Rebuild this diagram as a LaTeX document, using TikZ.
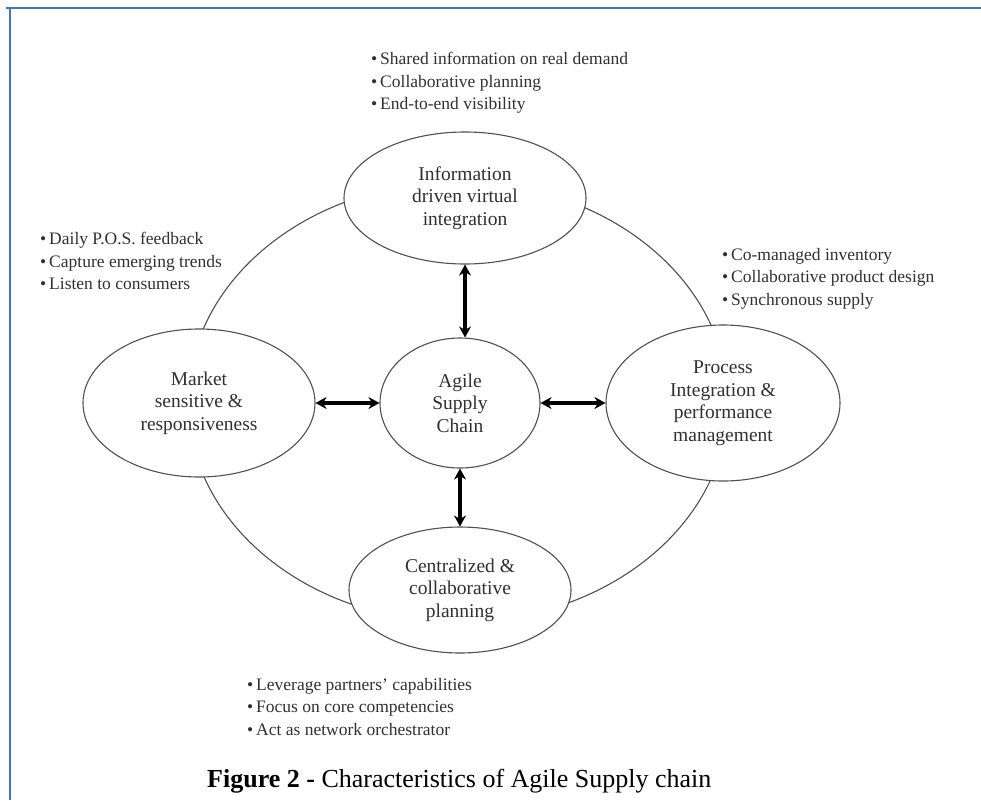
\documentclass[tikz,border=0pt]{standalone}
\usepackage{fontspec}
\setmainfont{Liberation Serif}
\usetikzlibrary{arrows.meta,positioning,shapes.geometric,calc}

\definecolor{framecol}{HTML}{4472C4}
\definecolor{txtcol}{HTML}{303030}
\definecolor{linecol}{HTML}{505050}

\tikzset{
  oval/.style={draw=linecol,fill=white,ellipse,line width=1.1pt,inner sep=0pt,
    align=center,text=txtcol,font=\fontsize{19.5}{22.5}\selectfont},
  lst/.style={align=left,inner sep=0pt,anchor=north west,text=txtcol,
    font=\fontsize{17.5}{22.5}\selectfont},
  dbl/.style={{Stealth[length=11pt,width=12pt]}-{Stealth[length=11pt,width=12pt]},line width=3.2pt}
}

\begin{document}
\begin{tikzpicture}[x=1pt,y=-1pt]
      \useasboundingbox (0,0) rectangle (981,800);
      % frame
      \draw[framecol,line width=2.6pt] (6,8) -- (981,8);
      \draw[framecol,line width=2.4pt] (10,8) -- (10,800);
      % outer ring
      \draw[linecol,line width=1.1pt] (458,402) ellipse [x radius=270pt, y radius=220pt];
      \node[oval,minimum width=242pt,minimum height=132pt] (info) at (465,198) {Information\\driven virtual\\integration};
      \node[oval,minimum width=160pt,minimum height=130pt] (agile) at (460,403) {Agile\\Supply\\Chain};
      \node[oval,minimum width=232pt,minimum height=148pt] (market) at (199,403) {Market\\sensitive \&\\responsiveness};
      \node[oval,minimum width=234pt,minimum height=156pt] (process) at (723,403) {Process\\Integration \&\\performance\\management};
      \node[oval,minimum width=222pt,minimum height=126pt] (central) at (460,590) {Centralized \&\\collaborative\\planning};
      \draw[dbl] (info.south) -- (info.south |- agile.north);
      \draw[dbl] (agile.south) -- (central.north);
      \draw[dbl] (market.east) -- (agile.west);
      \draw[dbl] (agile.east) -- (process.west);
      % bullet lists
      \node[lst] (infolist) at (371,52) {\textbullet\,Shared information on real demand\\\textbullet\,Collaborative planning\\\textbullet\,End-to-end visibility};
      \node[lst] (marketlist) at (40,232) {\textbullet\,Daily P.O.S. feedback\\\textbullet\,Capture emerging trends\\\textbullet\,Listen to consumers};
      \node[lst] (processlist) at (722,248) {\textbullet\,Co-managed inventory\\\textbullet\,Collaborative product design\\\textbullet\,Synchronous supply};
      \node[lst] (centrallist) at (247,678) {\textbullet\,Leverage partners' capabilities\\\textbullet\,Focus on core competencies\\\textbullet\,Act as network orchestrator};
      \node[anchor=base west,inner sep=0pt,font=\fontsize{26}{30}\selectfont] (caption) at (207,787) {\textbf{Figure 2 -} Characteristics of Agile Supply chain};
    \end{tikzpicture}
\end{document}
